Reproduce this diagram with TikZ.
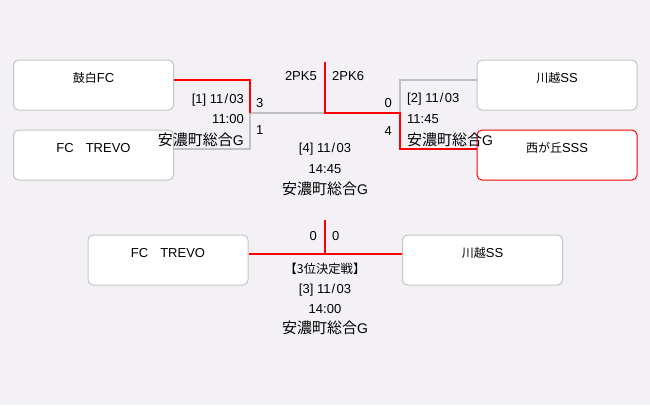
\documentclass[tikz,border=0pt]{standalone}
\usepackage{fontspec}
\setmainfont{Liberation Sans}
\newfontfamily\cjk{Noto Sans CJK JP}
\newcommand{\jp}[1]{{\cjk #1}}
\newcommand{\md}[1]{11\kern1.2pt/\kern1.2pt0#1}
\definecolor{bgcol}{HTML}{F3F1F5}
\definecolor{boxline}{HTML}{C4C4C4}
\definecolor{loseline}{HTML}{C0C0C0}
\begin{document}
\begin{tikzpicture}[x=1pt, y=-1pt,
	every node/.style={inner sep=0pt, font=\fontsize{13}{15}\selectfont},
	team/.style={rectangle, rounded corners=5pt, draw=boxline, line width=1pt, fill=white, minimum width=160pt, inner ysep=0pt, text height=22pt, text depth=28pt},
	venue/.style={font=\fontsize{14}{16}\selectfont},
	win/.style={draw=red, line width=2pt},
	lose/.style={draw=loseline, line width=2pt}]
	\fill[bgcol] (0,0) rectangle (650,405);
	\useasboundingbox (0,0) rectangle (650,405);
	
	\node[team] (tsuzumi) at (93.5,85) {\jp{\fontsize{12}{14}\selectfont 鼓白}FC};
	\node[team] (trevoA) at (93.5,155) {FC\hspace{12pt}TREVO};
	\node[team] (kawagoeA) at (557,85) {\jp{\fontsize{12}{14}\selectfont 川越}SS};
	\node[team, draw=red] (nishi) at (557,155) {\jp{\fontsize{12}{14}\selectfont 西が丘}SSS};
	\node[team] (trevoB) at (168,260) {FC\hspace{12pt}TREVO};
	\node[team] (kawagoeB) at (482.5,260) {\jp{\fontsize{12}{14}\selectfont 川越}SS};
	
	\coordinate (j1) at (250,113);
	\coordinate (j2) at (400,113);
	\coordinate (fin) at (325,113);
	\coordinate (finTop) at (325,62);
	\coordinate (third) at (325,254);
	\coordinate (thirdTop) at (325,220);
	
	\draw[lose] ([yshift=6pt]trevoA.east) -| (j1) -- (fin);
	\draw[lose] ([yshift=5pt]kawagoeA.west) -| (j2);
	\draw[win] ([yshift=5pt]tsuzumi.east) -| (j1);
	\draw[win] ([yshift=6pt]nishi.west) -| (j2) -- (fin) -- (finTop);
	\draw[win] ([yshift=6pt]trevoB.east) -- ([yshift=6pt]kawagoeB.west);
	\draw[win] (thirdTop) -- (third);
	
	% match 1
	\node[anchor=base east] (m1date) at (244,103) {[1] \md{3}};
	\node[anchor=base east] (m1time) at (244,123) {11:00};
	\node[venue, anchor=base east] (m1place) at (244,145) {\jp{\fontsize{15}{17}\selectfont 安濃町総合}G};
	\node[anchor=base west] (m1home) at (256,107) {3};
	\node[anchor=base west] (m1away) at (256,134) {1};
	% match 2
	\node[anchor=base west] (m2date) at (407,102) {[2] \md{3}};
	\node[anchor=base west] (m2time) at (407,123) {11:45};
	\node[venue, anchor=base west] (m2place) at (407,145) {\jp{\fontsize{15}{17}\selectfont 安濃町総合}G};
	\node[anchor=base east] (m2home) at (392,107) {0};
	\node[anchor=base east] (m2away) at (392,135) {4};
	% final
	\node[anchor=base east] (m4pkA) at (317,80) {2PK5};
	\node[anchor=base west] (m4pkB) at (332,80) {2PK6};
	\node[anchor=base] (m4date) at (325,152) {[4] \md{3}};
	\node[anchor=base] (m4time) at (325,173) {14:45};
	\node[venue, anchor=base] (m4place) at (325,194) {\jp{\fontsize{15}{17}\selectfont 安濃町総合}G};
	% 3rd place
	\node[anchor=base east] (m3home) at (317,240) {0};
	\node[anchor=base west] (m3away) at (332,240) {0};
	\node[anchor=base] (m3title) at (325,273) {\jp{\fontsize{12.3}{14}\selectfont 【3位決定戦】}};
	\node[anchor=base] (m3date) at (325,293) {[3] \md{3}};
	\node[anchor=base] (m3time) at (325,313) {14:00};
	\node[venue, anchor=base] (m3place) at (325,333) {\jp{\fontsize{15}{17}\selectfont 安濃町総合}G};
\end{tikzpicture}
\end{document}
